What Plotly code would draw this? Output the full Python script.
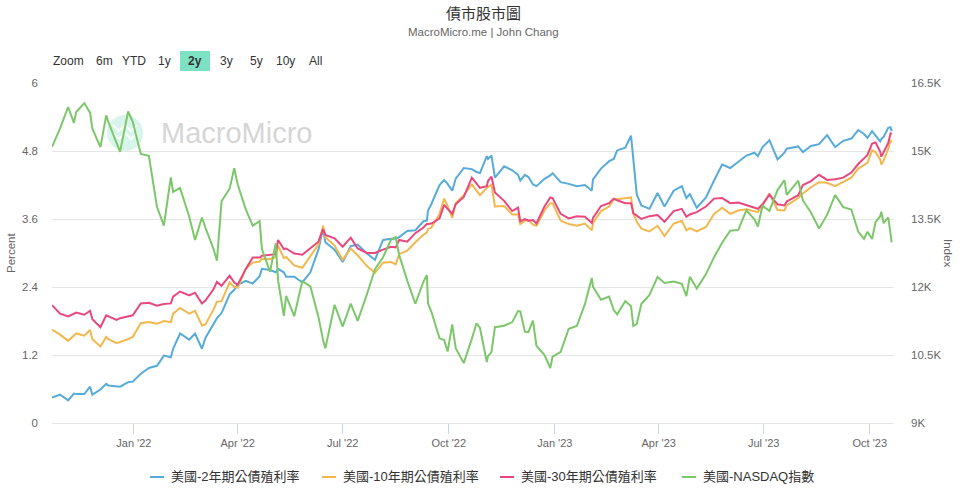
import plotly.graph_objects as go

# ---------------- data ----------------
dates = [
    "2021-10-22", "2021-10-29", "2021-11-05", "2021-11-10", "2021-11-12", "2021-11-19", "2021-11-24", "2021-11-26", "2021-12-03", "2021-12-08",
    "2021-12-10", "2021-12-17", "2021-12-20", "2021-12-27", "2021-12-31", "2022-01-07", "2022-01-14", "2022-01-21", "2022-01-27", "2022-02-02",
    "2022-02-04", "2022-02-10", "2022-02-18", "2022-02-23", "2022-03-01", "2022-03-04", "2022-03-11", "2022-03-14", "2022-03-18", "2022-03-25",
    "2022-03-29", "2022-04-01", "2022-04-08", "2022-04-14", "2022-04-20", "2022-04-22", "2022-04-29", "2022-05-04", "2022-05-06", "2022-05-11",
    "2022-05-13", "2022-05-20", "2022-05-27", "2022-06-03", "2022-06-10", "2022-06-14", "2022-06-16", "2022-06-24", "2022-07-01", "2022-07-08",
    "2022-07-14", "2022-07-22", "2022-07-29", "2022-08-05", "2022-08-12", "2022-08-16", "2022-08-19", "2022-08-26", "2022-09-02", "2022-09-09",
    "2022-09-12", "2022-09-13", "2022-09-16", "2022-09-23", "2022-09-27", "2022-09-30", "2022-10-04", "2022-10-07", "2022-10-14", "2022-10-21",
    "2022-10-25", "2022-10-28", "2022-11-03", "2022-11-04", "2022-11-07", "2022-11-10", "2022-11-18", "2022-11-25", "2022-11-30", "2022-12-02",
    "2022-12-06", "2022-12-09", "2022-12-13", "2022-12-16", "2022-12-23", "2022-12-28", "2022-12-30", "2023-01-06", "2023-01-13", "2023-01-20",
    "2023-01-27", "2023-02-02", "2023-02-03", "2023-02-10", "2023-02-17", "2023-02-21", "2023-02-24", "2023-03-03", "2023-03-08", "2023-03-10",
    "2023-03-13", "2023-03-17", "2023-03-24", "2023-03-31", "2023-04-06", "2023-04-14", "2023-04-21", "2023-04-25", "2023-04-28", "2023-05-04",
    "2023-05-12", "2023-05-19", "2023-05-26", "2023-06-02", "2023-06-09", "2023-06-16", "2023-06-23", "2023-06-26", "2023-06-30", "2023-07-06",
    "2023-07-13", "2023-07-19", "2023-07-21", "2023-07-31", "2023-08-04", "2023-08-11", "2023-08-18", "2023-08-25", "2023-09-01", "2023-09-08",
    "2023-09-15", "2023-09-21", "2023-09-26", "2023-09-29", "2023-10-03", "2023-10-06", "2023-10-10", "2023-10-11", "2023-10-13", "2023-10-17",
    "2023-10-19", "2023-10-20",
]

us2y = [
    0.45, 0.50, 0.40, 0.52, 0.51, 0.51, 0.64, 0.50, 0.59, 0.69,
    0.66, 0.64, 0.64, 0.72, 0.73, 0.87, 0.97, 1.01, 1.19, 1.16,
    1.31, 1.58, 1.47, 1.58, 1.31, 1.50, 1.75, 1.85, 1.94, 2.27,
    2.35, 2.44, 2.51, 2.46, 2.59, 2.72, 2.70, 2.66, 2.72, 2.66,
    2.58, 2.58, 2.48, 2.66, 3.06, 3.43, 3.19, 3.06, 2.84, 3.12,
    3.15, 2.99, 2.88, 3.23, 3.25, 3.25, 3.28, 3.39, 3.40, 3.56,
    3.57, 3.75, 3.87, 4.20, 4.29, 4.22, 4.10, 4.31, 4.50, 4.48,
    4.43, 4.41, 4.71, 4.66, 4.72, 4.33, 4.53, 4.46, 4.38, 4.28,
    4.38, 4.34, 4.21, 4.18, 4.31, 4.37, 4.41, 4.25, 4.22, 4.18,
    4.20, 4.10, 4.30, 4.49, 4.62, 4.66, 4.81, 4.86, 5.07, 4.60,
    4.03, 3.84, 3.78, 4.06, 3.82, 4.10, 4.18, 3.97, 4.04, 3.80,
    3.98, 4.28, 4.56, 4.50, 4.61, 4.72, 4.77, 4.71, 4.87, 4.99,
    4.65, 4.77, 4.84, 4.88, 4.78, 4.89, 4.92, 5.08, 4.87, 4.98,
    5.02, 5.17, 5.10, 5.03, 5.15, 5.08, 4.97, 5.01, 5.05, 5.21,
    5.22, 5.15,
]

us10y = [
    1.65, 1.56, 1.45, 1.55, 1.58, 1.54, 1.64, 1.48, 1.35, 1.52,
    1.48, 1.41, 1.43, 1.48, 1.52, 1.76, 1.78, 1.75, 1.80, 1.78,
    1.93, 2.03, 1.93, 1.98, 1.72, 1.74, 2.00, 2.14, 2.15, 2.48,
    2.40, 2.39, 2.72, 2.83, 2.85, 2.90, 2.89, 2.93, 3.13, 2.91,
    2.93, 2.78, 2.74, 2.94, 3.15, 3.48, 3.28, 3.13, 2.88, 3.08,
    2.96, 2.77, 2.65, 2.83, 2.84, 2.80, 2.98, 3.04, 3.19, 3.32,
    3.36, 3.42, 3.45, 3.69, 3.96, 3.83, 3.62, 3.88, 4.02, 4.21,
    4.10, 4.02, 4.15, 4.16, 4.21, 3.82, 3.83, 3.68, 3.68, 3.51,
    3.57, 3.58, 3.50, 3.48, 3.75, 3.88, 3.88, 3.57, 3.51, 3.48,
    3.52, 3.40, 3.53, 3.74, 3.82, 3.95, 3.95, 3.96, 3.98, 3.70,
    3.55, 3.43, 3.38, 3.48, 3.30, 3.52, 3.57, 3.40, 3.44, 3.38,
    3.46, 3.69, 3.80, 3.69, 3.75, 3.77, 3.74, 3.72, 3.84, 4.05,
    3.76, 3.75, 3.84, 3.97, 4.05, 4.16, 4.25, 4.24, 4.18, 4.26,
    4.33, 4.49, 4.56, 4.59, 4.81, 4.78, 4.65, 4.56, 4.63, 4.84,
    4.99, 4.95,
]

us30y = [
    2.08, 1.93, 1.88, 1.93, 1.95, 1.91, 1.98, 1.83, 1.69, 1.90,
    1.88, 1.82, 1.85, 1.89, 1.90, 2.11, 2.12, 2.07, 2.10, 2.11,
    2.23, 2.32, 2.25, 2.30, 2.11, 2.16, 2.36, 2.49, 2.42, 2.60,
    2.48, 2.44, 2.72, 2.92, 2.92, 2.95, 2.96, 2.98, 3.23, 3.07,
    3.08, 2.99, 2.97, 3.09, 3.20, 3.42, 3.32, 3.26, 3.11, 3.27,
    3.08, 3.00, 3.00, 3.06, 3.11, 3.10, 3.23, 3.20, 3.35, 3.45,
    3.51, 3.51, 3.52, 3.61, 3.85, 3.78, 3.69, 3.86, 3.99, 4.33,
    4.22, 4.15, 4.18, 4.27, 4.35, 4.07, 3.92, 3.74, 3.80, 3.56,
    3.60, 3.57, 3.58, 3.52, 3.82, 3.98, 3.97, 3.69, 3.61, 3.65,
    3.64, 3.53, 3.62, 3.83, 3.88, 3.96, 3.93, 3.88, 3.88, 3.70,
    3.66, 3.60, 3.65, 3.67, 3.55, 3.74, 3.78, 3.64, 3.68, 3.72,
    3.82, 3.96, 3.97, 3.88, 3.89, 3.85, 3.81, 3.78, 3.86, 4.03,
    3.86, 3.84, 3.91, 4.02, 4.20, 4.27, 4.38, 4.29, 4.30, 4.33,
    4.42, 4.57, 4.67, 4.73, 4.93, 4.95, 4.79, 4.70, 4.78, 4.94,
    5.11, 5.10,
]

nasdaq = [
    15090, 15498, 15971, 15622, 15860, 16057, 15845, 15491, 15085, 15786,
    15630, 15169, 14980, 15871, 15645, 14936, 14894, 13769, 13352, 14417,
    14098, 14186, 13548, 13037, 13532, 13313, 12843, 12581, 13894, 14169,
    14619, 14262, 13711, 13351, 13453, 12839, 12335, 12964, 12145, 11364,
    11805, 11355, 12131, 12013, 11341, 10828, 10646, 11608, 11128, 11635,
    11251, 11834, 12391, 12657, 13047, 13103, 12705, 12141, 11631, 12112,
    12266, 11634, 11448, 10868, 10829, 10576, 11176, 10652, 10321, 10860,
    11199, 11102, 10342, 10475, 10565, 11114, 11146, 11226, 11468, 11461,
    11015, 11005, 11256, 10705, 10498, 10213, 10466, 10569, 11079, 11140,
    11622, 12200, 12007, 11718, 11787, 11492, 11395, 11689, 11576, 11138,
    11189, 11630, 11824, 12222, 12088, 12123, 12072, 11799, 12227, 11966,
    12285, 12658, 12975, 13241, 13259, 13689, 13492, 13335, 13788, 13679,
    14138, 14358, 14032, 14346, 13909, 13644, 13290, 13590, 14031, 13761,
    13708, 13224, 13063, 13219, 13059, 13431, 13562, 13659, 13407, 13534,
    13187, 12984,
]

series_names = ["美國-2年期公債殖利率", "美國-10年期公債殖利率", "美國-30年期公債殖利率", "美國-NASDAQ指數"]
series_colors = ["#57abd9", "#f2b84e", "#e8487c", "#7cc76a"]

left_tickvals = [0, 1.2, 2.4, 3.6, 4.8, 6]
left_ticktext = ["0", "1.2", "2.4", "3.6", "4.8", "6"]
right_tickvals = [9000, 10500, 12000, 13500, 15000, 16500]
right_ticktext = ["9K", "10.5K", "12K", "13.5K", "15K", "16.5K"]

range_buttons = ["Zoom", "6m", "YTD", "1y", "2y", "3y", "5y", "10y", "All"]
active_button = "2y"

title_text = "債市股市圖"
subtitle_text = "MacroMicro.me | John Chang"

# ---------------- layout geometry (pixels) ----------------
W, H = 960, 498
L, R, T, B = 52, 894, 83, 423
FONT = "Helvetica Neue, Helvetica, Arial, Liberation Sans, Noto Sans CJK TC, sans-serif"


def px(x):
    return (x - L) / (R - L)


def py(y):
    return (B - y) / (B - T)


fig = go.Figure()
series_values = [us2y, us10y, us30y, nasdaq]
for i, (name, vals, col) in enumerate(zip(series_names, series_values, series_colors)):
    fig.add_trace(go.Scatter(
        x=dates, y=vals, name=name, mode="lines",
        line=dict(color=col, width=2),
        yaxis="y2" if i == 3 else "y",
        showlegend=False, hoverinfo="skip",
    ))

annotations = []
shapes = []

# titles
annotations.append(dict(text=title_text, x=px(483), y=py(13), xref="paper", yref="paper",
                        showarrow=False, xanchor="center", yanchor="middle",
                        font=dict(size=15, color="#333333", family=FONT)))
annotations.append(dict(text=subtitle_text, x=px(483), y=py(32), xref="paper", yref="paper",
                        showarrow=False, xanchor="center", yanchor="middle",
                        font=dict(size=11.5, color="#666666", family=FONT)))

# range selector look-alike
btn_x = [68, 104, 134, 164, 195, 226, 256, 285, 315]
for label, bx in zip(range_buttons, btn_x):
    if label == active_button:
        shapes.append(dict(type="rect", xref="paper", yref="paper",
                           x0=px(180), x1=px(210), y0=py(71), y1=py(51),
                           fillcolor="#7de2c4", line=dict(width=0), layer="below"))
    annotations.append(dict(text=("<b>%s</b>" % label) if label == active_button else label,
                            x=px(bx), y=py(61), xref="paper", yref="paper",
                            showarrow=False, xanchor="center", yanchor="middle",
                            font=dict(size=12, color="#333333", family=FONT)))

# axis titles
annotations.append(dict(text="Percent", x=px(11), y=py(253), xref="paper", yref="paper",
                        showarrow=False, textangle=-90, xanchor="center", yanchor="middle",
                        font=dict(size=11.5, color="#666666", family=FONT)))
annotations.append(dict(text="Index", x=px(948), y=py(253), xref="paper", yref="paper",
                        showarrow=False, textangle=90, xanchor="center", yanchor="middle",
                        font=dict(size=11.5, color="#666666", family=FONT)))

# watermark
shapes.append(dict(type="circle", xref="paper", yref="paper",
                   x0=px(107), x1=px(143), y0=py(151), y1=py(115),
                   fillcolor="rgba(190,238,222,0.6)", line=dict(width=0), layer="below"))
for dy in (0, 8):
    pts = [(113, 125 + dy), (119, 131 + dy), (125, 125 + dy), (131, 131 + dy), (137, 125 + dy)]
    path = "M " + " L ".join("%.5f,%.5f" % (px(a), py(b)) for a, b in pts)
    shapes.append(dict(type="path", xref="paper", yref="paper", path=path,
                       line=dict(color="rgba(255,255,255,0.9)", width=2), layer="below"))
annotations.append(dict(text="MacroMicro", x=px(159), y=py(133), xref="paper", yref="paper",
                        showarrow=False, xanchor="left", yanchor="middle",
                        font=dict(size=29, color="rgba(200,200,200,0.75)", family=FONT)))

# legend (custom, short line symbols)
legend_line_x = [150, 322, 500, 682]
for name, col, lx in zip(series_names, series_colors, legend_line_x):
    shapes.append(dict(type="line", xref="paper", yref="paper",
                       x0=px(lx), x1=px(lx + 14), y0=py(477), y1=py(477),
                       line=dict(color=col, width=2)))
    annotations.append(dict(text=name, x=px(lx + 19), y=py(477), xref="paper", yref="paper",
                            showarrow=False, xanchor="left", yanchor="middle",
                            font=dict(size=13, color="#333333", family=FONT)))

fig.update_layout(
    width=W, height=H,
    margin=dict(l=L, r=W - R, t=T, b=H - B, pad=0),
    paper_bgcolor="white", plot_bgcolor="white",
    font=dict(family=FONT, color="#666666", size=11),
    showlegend=False,
    hovermode=False,
    annotations=annotations,
    shapes=shapes,
    xaxis=dict(
        type="date", range=["2021-10-22", "2023-10-22"],
        tickformat="%b '%y", dtick="M3", tick0="2022-01-01",
        ticks="outside", ticklen=10, tickcolor="#ccd6eb", tickwidth=1,
        showgrid=False, showline=True, linecolor="#e6e6e6", linewidth=1,
        tickfont=dict(size=11, color="#666666"),
        zeroline=False, fixedrange=True,
    ),
    yaxis=dict(
        range=[0, 6], tickvals=left_tickvals, ticktext=left_ticktext,
        showgrid=True, gridcolor="#e6e6e6", gridwidth=1,
        zeroline=False, showline=False,
        tickfont=dict(size=11.5, color="#666666"),
        ticklabelstandoff=13,
    ),
    yaxis2=dict(
        range=[9000, 16500], tickvals=right_tickvals, ticktext=right_ticktext,
        overlaying="y", side="right", showgrid=False, zeroline=False, showline=False,
        tickfont=dict(size=11.5, color="#666666"),
        ticklabelstandoff=16,
    ),
)

fig.write_html("out.html")
